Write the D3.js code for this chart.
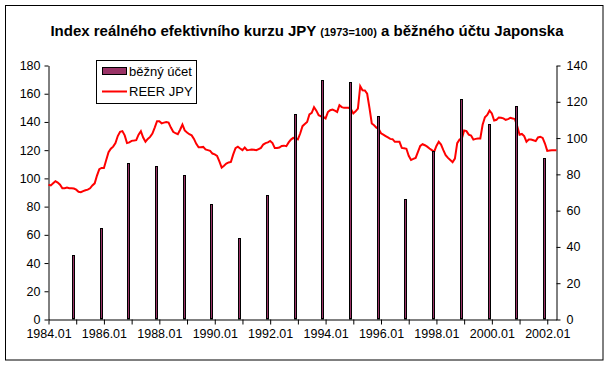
<!DOCTYPE html>
<html>
<head>
<meta charset="utf-8">
<script src="https://cdn.jsdelivr.net/npm/d3@7"></script>
<style>
  body { margin: 0; background: #fff; }
  svg text { font-family: "Liberation Sans", Arial, sans-serif; fill: #000; }
</style>
</head>
<body>
<div id="chart"></div>
<script>
// monthly categories 1984.01 .. 2002.05
var startYear = 1984, monthCount = 221;
var months = [];
for (var i = 0; i < monthCount; i++) {
    var yy = startYear + Math.floor(i / 12), mm = (i % 12) + 1;
    months.push(yy + "." + (mm < 10 ? "0" + mm : mm));
}

// REER JPY (1973=100), monthly
var reerJpy = [
    95.5, 95, 96.5, 98, 97, 95.5, 93, 93, 93.5, 93, 93, 92.8,                  // 1984
    92, 90.5, 90.2, 91, 91.6, 92, 93, 95, 96.5, 102, 106.5, 107.4,             // 1985
    107.4, 113, 118.5, 121, 122.5, 125, 130, 133, 133.5, 130.5, 125, 125.5,    // 1986
    126.6, 126.8, 127.1, 131, 133.5, 129, 126, 128, 129.4, 131.8, 136, 140.5,  // 1987
    140.5, 139, 139.5, 140, 139.5, 136, 133, 132, 131.3, 134.5, 138.2, 134,    // 1988
    132.5, 131.3, 130.5, 128, 124.5, 122, 122, 122.3, 120.5, 120, 119.5, 117.6, // 1989
    117, 116, 112, 107.7, 109, 110.5, 111.3, 111.7, 117, 121.5, 122.5, 121.2,  // 1990
    120, 121.9, 120, 120.2, 120.5, 120.3, 120, 120.8, 121.6, 124, 125, 125.5,  // 1991
    126.5, 125, 121.5, 121.5, 121.9, 123, 123.2, 122.8, 125.5, 127.5, 128.7, 128.5, // 1992
    127.6, 131.8, 137, 138.5, 140, 145.3, 146.4, 150.5, 148, 144.8, 144, 143.6, // 1993
    142.5, 147, 148.3, 148.8, 148, 147.1, 151.9, 150.5, 150, 150, 150, 149,    // 1994
    146, 147.5, 149.5, 165.3, 162.5, 162.3, 160, 150, 138.9, 137.7, 136, 135,  // 1995
    132, 131, 130, 129, 128, 127.8, 125.9, 125.9, 125.9, 121.6, 121.3, 121,    // 1996
    116, 113, 113.8, 114.5, 118.8, 123, 124.2, 123.5, 122.5, 121.2, 120, 118.8, // 1997
    123, 126, 124, 120, 116.5, 114.5, 113, 111.5, 114, 125, 127.5, 128.3,      // 1998
    134, 133.5, 131, 130.4, 127.5, 128, 128.3, 128.3, 138, 143.3, 145, 148,    // 1999
    146, 141, 141.5, 143.2, 143, 142.5, 141.5, 142, 142.9, 142.5, 142, 137,    // 2000
    131, 131.5, 130, 126, 127.5, 127.5, 127, 126.4, 129, 129.5, 128.7, 124.7,  // 2001
    119.5, 119.8, 120, 120, 120                                                // 2002
];

// current account (right axis), plotted at December of each year
var caMonths = ["1984.12", "1985.12", "1986.12", "1987.12", "1988.12", "1989.12",
                "1990.12", "1991.12", "1992.12", "1993.12", "1994.12", "1995.12",
                "1996.12", "1997.12", "1998.12", "1999.12", "2000.12", "2001.12"];
var caValues = [35.4, 50.7, 86, 84.5, 79.5, 63.6, 44.8, 68.5, 113.2, 132.2,
                130.7, 111.9, 66.2, 92.8, 121.3, 107.7, 117.6, 88.8];

var xTickLabels = ["1984.01", "1986.01", "1988.01", "1990.01", "1992.01",
                   "1994.01", "1996.01", "1998.01", "2000.01", "2002.01"];
var leftTicks = [0, 20, 40, 60, 80, 100, 120, 140, 160, 180];
var rightTicks = [0, 20, 40, 60, 80, 100, 120, 140];

var width = 610, height = 366;
var plotLeft = 48.5, plotRight = 556.5, plotTop = 65.5, plotBottom = 319.5;

var svg = d3.select("#chart").append("svg")
    .attr("width", width)
    .attr("height", height);

// chart border
svg.append("rect")
    .attr("x", 5.5).attr("y", 5.5)
    .attr("width", 597.5).attr("height", 354.5)
    .attr("fill", "#fff")
    .attr("stroke", "#000");

// title
var title = svg.append("text")
    .attr("x", 307).attr("y", 36)
    .attr("text-anchor", "middle")
    .style("font-weight", "bold")
    .style("font-size", "15px");
title.append("tspan").text("Index reálného efektivního kurzu JPY ");
title.append("tspan").style("font-size", "11px").text("(1973=100)");
title.append("tspan").text(" a běžného účtu Japonska");

var x = d3.scalePoint().domain(months).range([plotLeft, plotRight]);
var yL = d3.scaleLinear().domain([0, 180]).range([plotBottom, plotTop]);
var yR = d3.scaleLinear().domain([0, 140]).range([plotBottom, plotTop]);

// axes
var leftAxis = svg.append("g")
    .attr("transform", "translate(" + plotLeft + ",0)")
    .call(d3.axisLeft(yL).tickValues(leftTicks).tickSize(4).tickSizeOuter(0).tickPadding(4));
var rightAxis = svg.append("g")
    .attr("transform", "translate(" + plotRight + ",0)")
    .call(d3.axisRight(yR).tickValues(rightTicks).tickSize(4).tickSizeOuter(0).tickPadding(6));
var janMonths = months.filter(function (m) { return m.slice(5) == "01"; });
var bottomAxis = svg.append("g")
    .attr("transform", "translate(0," + plotBottom + ")")
    .call(d3.axisBottom(x).tickValues(janMonths).tickSize(5).tickSizeOuter(0).tickPadding(5)
        .tickFormat(function (d) { return xTickLabels.includes(d) ? d : ""; }));

[leftAxis, rightAxis, bottomAxis].forEach(function (g) {
    g.selectAll("path, line").attr("stroke", "#000");
    g.selectAll("text")
        .style("font-family", '"Liberation Sans", Arial, sans-serif')
        .style("font-size", "12.5px")
        .attr("fill", "#000");
});

// REER line (left axis)
var line = d3.line()
    .x(function (d, i) { return x(months[i]); })
    .y(function (d) { return yL(d); });
svg.append("path")
    .datum(reerJpy)
    .attr("d", line)
    .attr("fill", "none")
    .attr("stroke", "#ff0000")
    .attr("stroke-width", 2);

// current account bars (right axis)
svg.selectAll("rect.bar")
    .data(caValues)
    .enter().append("rect")
    .attr("class", "bar")
    .attr("x", function (d, i) { return Math.round(x(caMonths[i])) - 1.5; })
    .attr("y", function (d) { return Math.round(yR(d)) + 0.5; })
    .attr("width", 2)
    .attr("height", function (d) { return plotBottom - 0.5 - (Math.round(yR(d)) + 0.5); })
    .attr("fill", "#993366")
    .attr("stroke", "#000")
    .attr("stroke-width", 1);

// legend
var legend = svg.append("g");
legend.append("rect")
    .attr("x", 96.5).attr("y", 60.5)
    .attr("width", 100).attr("height", 43)
    .attr("fill", "#fff").attr("stroke", "#000");
legend.append("rect")
    .attr("x", 102.5).attr("y", 67.5)
    .attr("width", 24).attr("height", 7)
    .attr("fill", "#993366").attr("stroke", "#000");
legend.append("line")
    .attr("x1", 102).attr("x2", 127)
    .attr("y1", 91.5).attr("y2", 91.5)
    .attr("stroke", "#ff0000").attr("stroke-width", 2);
legend.append("text")
    .attr("x", 129).attr("y", 76)
    .style("font-size", "13px")
    .text("běžný účet");
legend.append("text")
    .attr("x", 129).attr("y", 96)
    .style("font-size", "13px")
    .text("REER JPY");
</script>
</body>
</html>
